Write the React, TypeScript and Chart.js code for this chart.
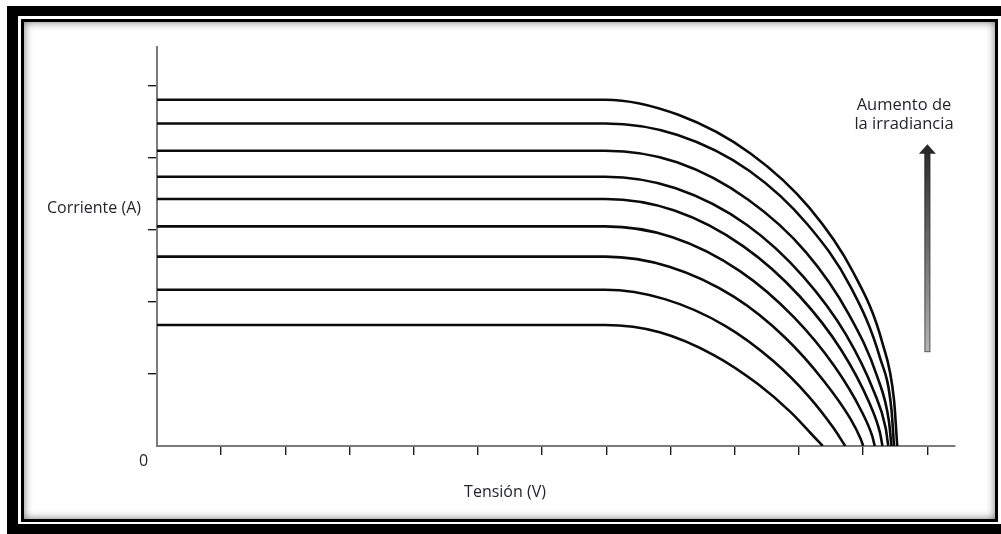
import React, { useEffect, useRef } from 'react';
import { Chart, registerables } from 'chart.js';

Chart.register(...registerables);

// Curvas I-V (tensión en V, corriente en A), de la irradiancia más alta a la más baja
const CURVE_1_V = [0, 6.98, 8.12, 9.25, 10.16, 10.84, 11.30, 11.48, 11.53];
const CURVE_1_I = [4.81, 4.81, 4.60, 4.06, 3.31, 2.42, 1.43, 0.64, 0];
const CURVE_2_V = [0, 6.98, 8.11, 9.23, 10.13, 10.81, 11.26, 11.44, 11.48];
const CURVE_2_I = [4.48, 4.48, 4.32, 3.82, 3.08, 2.20, 1.23, 0.51, 0];
const CURVE_3_V = [0, 6.98, 8.10, 9.21, 10.11, 10.77, 11.22, 11.40, 11.44];
const CURVE_3_I = [4.10, 4.10, 3.94, 3.42, 2.69, 1.84, 0.96, 0.35, 0];
const CURVE_4_V = [0, 6.98, 8.08, 9.19, 10.07, 10.73, 11.17, 11.35, 11.39];
const CURVE_4_I = [3.74, 3.74, 3.58, 3.07, 2.35, 1.55, 0.75, 0.25, 0];
const CURVE_5_V = [0, 6.98, 8.06, 9.14, 10.01, 10.66, 11.09, 11.26, 11.30];
const CURVE_5_I = [3.43, 3.43, 3.27, 2.77, 2.08, 1.33, 0.61, 0.19, 0];
const CURVE_6_V = [0, 6.98, 8.03, 9.08, 9.92, 10.55, 10.97, 11.14, 11.18];
const CURVE_6_I = [3.05, 3.05, 2.90, 2.43, 1.79, 1.11, 0.49, 0.14, 0];
const CURVE_7_V = [0, 6.98, 7.98, 8.99, 9.79, 10.39, 10.80, 10.96, 11.00];
const CURVE_7_I = [2.63, 2.63, 2.49, 2.07, 1.50, 0.90, 0.38, 0.10, 0];
const CURVE_8_V = [0, 6.98, 7.91, 8.85, 9.60, 10.16, 10.53, 10.72];
const CURVE_8_I = [2.17, 2.17, 2.04, 1.67, 1.18, 0.68, 0.26, 0];
const CURVE_9_V = [0, 6.98, 7.83, 8.68, 9.36, 9.87, 10.20, 10.37];
const CURVE_9_I = [1.68, 1.68, 1.58, 1.26, 0.86, 0.47, 0.16, 0];

const CURVES: [number[], number[]][] = [
  [CURVE_1_V, CURVE_1_I],
  [CURVE_2_V, CURVE_2_I],
  [CURVE_3_V, CURVE_3_I],
  [CURVE_4_V, CURVE_4_I],
  [CURVE_5_V, CURVE_5_I],
  [CURVE_6_V, CURVE_6_I],
  [CURVE_7_V, CURVE_7_I],
  [CURVE_8_V, CURVE_8_I],
  [CURVE_9_V, CURVE_9_I],
];

// Ejes
const X_MAX = 12.43;
const Y_MAX = 5.542;
const X_STEP = 1;
const Y_STEP = 1;

// Flecha "Aumento de la irradiancia" (en unidades de datos)
const ARROW_X = 12;
const ARROW_TOP = 4.19;
const ARROW_BOTTOM = 1.31;

// Textos
const Y_LABEL = 'Corriente (A)';
const X_LABEL = 'Tensión (V)';
const ZERO_LABEL = '0';
const NOTE_LINES = ['Aumento de', 'la irradiancia'];

const FONT = '"Open Sans", "DejaVu Sans", sans-serif';
const TEXT_COLOR = '#24242f';

const arrowPlugin = {
  id: 'irradianceArrow',
  afterDatasetsDraw(chart: any) {
    const { ctx, scales } = chart;
    const cx = scales.x.getPixelForValue(ARROW_X);
    const tip = scales.y.getPixelForValue(ARROW_TOP);
    const bottom = scales.y.getPixelForValue(ARROW_BOTTOM);
    const headH = 9;
    const headW = 17;
    const shaftW = 5;
    const base = tip + headH;
    ctx.save();
    const g = ctx.createLinearGradient(0, base, 0, bottom);
    g.addColorStop(0, '#2e2e2e');
    g.addColorStop(1, '#b4b4b4');
    ctx.fillStyle = g;
    ctx.fillRect(cx - shaftW / 2, base, shaftW, bottom - base);
    const g2 = ctx.createLinearGradient(0, base, 0, bottom);
    g2.addColorStop(0, '#1a1a1a');
    g2.addColorStop(1, '#555555');
    ctx.strokeStyle = g2;
    ctx.lineWidth = 1;
    ctx.strokeRect(cx - shaftW / 2, base, shaftW, bottom - base);
    ctx.beginPath();
    ctx.moveTo(cx, tip);
    ctx.lineTo(cx + headW / 2, base + 0.5);
    ctx.lineTo(cx - headW / 2, base + 0.5);
    ctx.closePath();
    ctx.fillStyle = '#2a2a2a';
    ctx.fill();
    ctx.restore();
  },
};

const tickColor = (c: any) =>
  c.tick && c.tick.value === 0 ? 'rgba(0,0,0,0)' : '#1c1c1c';

export default function App() {
  const canvasRef = useRef<HTMLCanvasElement | null>(null);

  useEffect(() => {
    if (!canvasRef.current) return;
    const datasets = CURVES.map(([v, i]) => ({
      data: v.map((x, k) => ({ x, y: i[k] })),
      borderColor: '#0b0b0b',
      borderWidth: 2.6,
      pointRadius: 0,
      fill: false,
      cubicInterpolationMode: 'monotone' as const,
    }));
    const chart = new Chart(canvasRef.current, {
      type: 'line',
      data: { datasets },
      options: {
        animation: false,
        responsive: true,
        maintainAspectRatio: false,
        events: [],
        layout: { padding: { left: 0, top: 47, right: 46, bottom: 0 } },
        plugins: {
          legend: { display: false },
          tooltip: { enabled: false },
          title: { display: false },
        },
        scales: {
          x: {
            type: 'linear',
            min: 0,
            max: X_MAX,
            afterFit: (s: any) => {
              s.height = 88;
            },
            ticks: { display: false, stepSize: X_STEP, includeBounds: false },
            grid: {
              drawOnChartArea: false,
              drawTicks: true,
              tickLength: 9,
              tickWidth: 1.4,
              lineWidth: 1.4,
              tickColor,
            },
            border: { display: true, color: '#7b7b7b', width: 2 },
          },
          y: {
            type: 'linear',
            min: 0,
            max: Y_MAX,
            afterFit: (s: any) => {
              s.width = 157;
            },
            ticks: { display: false, stepSize: Y_STEP, includeBounds: false },
            grid: {
              drawOnChartArea: false,
              drawTicks: true,
              tickLength: 9,
              tickWidth: 1.4,
              lineWidth: 1.4,
              tickColor,
            },
            border: { display: true, color: '#7b7b7b', width: 2 },
          },
        },
      },
      plugins: [arrowPlugin],
    });
    return () => chart.destroy();
  }, []);

  const text: React.CSSProperties = {
    position: 'absolute',
    fontFamily: FONT,
    fontSize: 16,
    lineHeight: '20px',
    color: TEXT_COLOR,
    whiteSpace: 'nowrap',
  };

  return (
    <div
      style={{
        position: 'fixed',
        left: 0,
        top: 0,
        width: 1001,
        height: 534,
        background: '#ffffff',
        overflow: 'hidden',
      }}
    >
      <div
        style={{
          position: 'absolute',
          left: 7,
          top: 6,
          width: 1100,
          height: 528,
          border: '10px solid #000',
          borderLeftWidth: 11,
          boxSizing: 'border-box',
        }}
      />
      <div
        style={{
          position: 'absolute',
          left: 21,
          top: 19,
          width: 977,
          height: 503,
          border: '3px solid #000',
          boxSizing: 'border-box',
          background: '#fff',
          boxShadow: 'inset 0 0 9px rgba(0,0,0,0.55)',
        }}
      />
      <div style={{ position: 'absolute', left: 0, top: 0, width: 1001, height: 534 }}>
        <canvas ref={canvasRef} />
      </div>
      <div style={{ ...text, left: 47, top: 197 }}>{Y_LABEL}</div>
      <div style={{ ...text, left: 139, top: 450 }}>{ZERO_LABEL}</div>
      <div style={{ ...text, left: 405, width: 200, textAlign: 'center', top: 481 }}>
        {X_LABEL}
      </div>
      <div
        style={{
          ...text,
          left: 804,
          width: 200,
          textAlign: 'center',
          top: 94,
          fontSize: 16.5,
          lineHeight: '19px',
        }}
      >
        {NOTE_LINES.map((l) => (
          <div key={l}>{l}</div>
        ))}
      </div>
    </div>
  );
}
